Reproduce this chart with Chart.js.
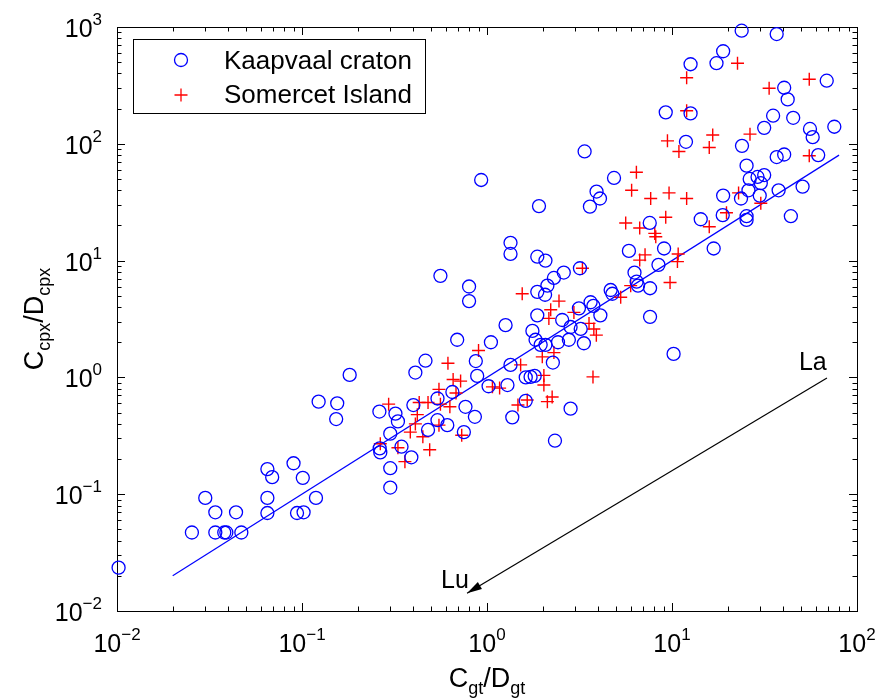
<!DOCTYPE html>
<html>
<head>
<meta charset="utf-8">
<script src="https://cdn.jsdelivr.net/npm/chart.js@4/dist/chart.umd.min.js"></script>
<style>
  html, body { margin: 0; padding: 0; background: #fff; }
</style>
</head>
<body>
<canvas id="chart" width="880" height="699"></canvas>
<script>
// Kaapvaal craton (blue circles)
const kaapX = [0.0102, 0.0254, 0.030, 0.034, 0.034, 0.038, 0.039, 0.044, 0.047, 0.065,
  0.069, 0.065, 0.065, 0.090, 0.101, 0.094, 0.102, 0.119, 0.123, 0.155,
  0.153, 0.181, 1.34, 1.34, 1.87, 2.07, 2.60, 0.56, 2.30, 2.12,
  0.80, 1.87, 2.06, 0.80, 3.63, 3.76, 3.14, 1.87, 2.55, 4.1,
  1.26, 2.83, 3.21, 1.76, 1.83, 1.95, 2.07, 2.42, 2.77, 3.34,
  0.69, 1.05, 2.27, 0.465, 0.41, 0.87, 1.34, 0.885, 1.62, 1.72,
  1.81, 1.02, 1.29, 0.65, 0.54, 1.62, 2.83, 0.40, 0.765, 0.262,
  0.32, 0.86, 1.37, 0.33, 0.54, 0.61, 0.48, 0.75, 0.30, 2.33,
  0.263, 0.265, 0.345, 0.39, 0.30, 0.30, 0.93, 1.91, 23.8, 36.8,
  18.9, 12.6, 17.4, 68.6, 40.4, 42.2, 9.25, 12.6, 35.2, 45.2,
  75.4, 31.5, 55.7, 57.6, 11.9, 23.9, 3.37, 36.8, 40.4, 61.7,
  25.3, 4.86, 29.0, 31.5, 30.2, 26.3, 50.8, 3.91, 4.08, 18.9,
  23.6, 29.8, 25.9, 37.7, 3.60, 14.3, 18.8, 25.3, 25.3, 43.9,
  7.58, 16.8, 5.85, 9.06, 8.45, 3.18, 6.27, 6.44, 6.55, 7.61,
  4.66, 4.76, 7.61, 10.2];
const kaapY = [0.0235, 0.047, 0.093, 0.070, 0.047, 0.047, 0.047, 0.070, 0.047, 0.164,
  0.14, 0.093, 0.069, 0.184, 0.138, 0.069, 0.070, 0.093, 0.62, 0.60,
  0.44, 1.05, 11.4, 14.2, 10.8, 10.0, 7.9, 7.4, 7.1, 6.1,
  6.0, 5.4, 5.1, 4.5, 4.4, 4.1, 3.9, 3.4, 3.1, 3.4,
  2.8, 2.7, 2.6, 2.5, 2.1, 1.9, 1.9, 2.0, 2.1, 1.96,
  2.1, 2.0, 1.34, 1.39, 1.10, 1.38, 1.28, 1.03, 1.0, 1.01,
  1.03, 0.84, 0.86, 0.75, 0.66, 0.63, 0.54, 0.58, 0.56, 0.51,
  0.49, 0.46, 0.455, 0.42, 0.43, 0.39, 0.355, 0.34, 0.33, 0.287,
  0.247, 0.228, 0.255, 0.207, 0.167, 0.114, 49, 29.3, 930, 870,
  620, 480, 490, 347, 302, 240, 186, 182, 174, 167,
  140, 137, 134, 114, 104, 96, 86, 77, 81, 80,
  65, 51, 52, 54, 46, 50, 43, 39, 34, 36,
  34, 36, 40, 40, 29, 22.6, 24.5, 24, 22.3, 24,
  21, 12.7, 12.1, 12.7, 9.2, 8.6, 7.9, 6.6, 6.1, 5.8,
  5.6, 5.2, 3.3, 1.59];

// Somercet Island (red plus)
const somX = [22.6, 12.0, 55.2, 33.5, 12.0, 16.6, 26.4, 9.45, 15.9, 10.9,
  55.2, 6.42, 6.05, 9.64, 12.0, 7.67, 22.9, 30.2, 19.7, 5.62,
  6.69, 8.07, 8.17, 9.25, 15.9, 7.15, 6.69, 10.8, 10.7, 3.28,
  5.98, 9.76, 5.28, 2.95, 3.56, 3.78, 3.90, 3.74, 1.55, 2.45,
  2.21, 2.16, 0.90, 0.615, 1.99, 2.30, 1.52, 2.03, 0.656, 0.72,
  1.07, 1.17, 2.03, 0.68, 0.55, 2.25, 2.12, 1.65, 1.47, 0.294,
  0.43, 0.48, 0.56, 0.63, 0.42, 0.41, 0.55, 0.385, 0.45, 0.73,
  0.265, 0.33, 0.49, 0.36];
const somY = [490, 368, 357, 299, 192, 119, 121, 106, 93, 86,
  79, 57, 40, 38, 34, 34, 38, 31, 25.7, 21,
  19, 17.1, 16, 23.5, 19.5, 11.2, 10.1, 11.4, 9.8, 8.6,
  6.1, 6.5, 4.85, 3.6, 2.9, 2.6, 2.3, 1.01, 5.2, 4.5,
  3.8, 3.2, 1.7, 1.32, 1.5, 1.63, 1.28, 1.04, 0.96, 0.93,
  0.83, 0.81, 0.86, 0.735, 0.79, 0.68, 0.62, 0.64, 0.58, 0.59,
  0.61, 0.61, 0.59, 0.56, 0.48, 0.40, 0.39, 0.34, 0.31, 0.32,
  0.27, 0.25, 0.24, 0.19];

// 1:1 reference line
const fitX = [0.02, 80];
const fitY = [0.02, 80];

// La -> Lu arrow
const arrowX = [68.8, 0.78];
const arrowY = [0.99, 0.0142];
const arrowText = ['La', 'Lu'];

// axes
const xTicks = [0.01, 0.1, 1, 10, 100];
const xTickExp = ['\u22122', '\u22121', '0', '1', '2'];
const yTicks = [0.01, 0.1, 1, 10, 100, 1000];
const yTickExp = ['\u22122', '\u22121', '0', '1', '2', '3'];
const seriesNames = ['Kaapvaal craton', 'Somercet Island'];

const FONT = '"Liberation Sans", Arial, Helvetica, sans-serif';
const BLUE = '#0000ff';
const RED = '#ff0000';

function pts(xs, ys) {
  return xs.map((x, i) => ({ x: x, y: ys[i] }));
}

// text with a raised or lowered small part: parts = [[text, size, dy], ...]
function partsWidth(ctx, parts) {
  let w = 0;
  parts.forEach(p => { ctx.font = p[1] + 'px ' + FONT; w += ctx.measureText(p[0]).width; });
  return w;
}
function drawParts(ctx, parts, x, y) {
  parts.forEach(p => {
    ctx.font = p[1] + 'px ' + FONT;
    ctx.fillText(p[0], x, y + p[2]);
    x += ctx.measureText(p[0]).width;
  });
}

const decor = {
  id: 'decor',
  beforeDatasetsDraw(chart) {
    const ctx = chart.ctx;
    const a = chart.chartArea;
    const xs = chart.scales.x, ys = chart.scales.y;
    ctx.save();
    ctx.strokeStyle = '#000';
    ctx.lineWidth = 1;
    ctx.strokeRect(a.left + 0.5, a.top + 0.5, a.right - a.left, a.bottom - a.top);
    ctx.beginPath();
    for (let d = -2; d < 2; d++) {
      for (let m = 1; m <= 9; m++) {
        const px = Math.round(xs.getPixelForValue(m * Math.pow(10, d))) + 0.5;
        const len = m === 1 ? 8 : 4.5;
        ctx.moveTo(px, a.bottom); ctx.lineTo(px, a.bottom - len);
        ctx.moveTo(px, a.top); ctx.lineTo(px, a.top + len);
      }
    }
    for (let d = -2; d < 3; d++) {
      for (let m = 1; m <= 9; m++) {
        const py = Math.round(ys.getPixelForValue(m * Math.pow(10, d))) + 0.5;
        const len = m === 1 ? 8 : 4.5;
        ctx.moveTo(a.left, py); ctx.lineTo(a.left + len, py);
        ctx.moveTo(a.right, py); ctx.lineTo(a.right - len, py);
      }
    }
    ctx.stroke();
    ctx.restore();
  },
  afterDraw(chart) {
    const ctx = chart.ctx;
    const a = chart.chartArea;
    const xs = chart.scales.x, ys = chart.scales.y;
    ctx.save();
    ctx.fillStyle = '#000';
    ctx.textBaseline = 'alphabetic';
    ctx.textAlign = 'left';

    // tick labels
    xTicks.forEach((v, i) => {
      const parts = [['10', 25, 0], [xTickExp[i], 17, -12]];
      const w = partsWidth(ctx, parts);
      drawParts(ctx, parts, xs.getPixelForValue(v) - w / 2, a.bottom + 41);
    });
    yTicks.forEach((v, i) => {
      const parts = [['10', 25, 0], [yTickExp[i], 17, -12]];
      const w = partsWidth(ctx, parts);
      drawParts(ctx, parts, a.left - 15 - w, ys.getPixelForValue(v) + 10);
    });

    // axis titles
    const xt = [['C', 27, 0], ['gt', 18, 7], ['/D', 27, 0], ['gt', 18, 7]];
    const xw = partsWidth(ctx, xt);
    drawParts(ctx, xt, (a.left + a.right) / 2 - xw / 2, 687);
    const yt = [['C', 27, 0], ['cpx', 18, 7], ['/D', 27, 0], ['cpx', 18, 7]];
    const yw = partsWidth(ctx, yt);
    ctx.save();
    ctx.translate(43, (a.top + a.bottom) / 2);
    ctx.rotate(-Math.PI / 2);
    drawParts(ctx, yt, -yw / 2, 0);
    ctx.restore();

    // arrow head and end labels
    const x0 = xs.getPixelForValue(arrowX[0]), y0 = ys.getPixelForValue(arrowY[0]);
    const x1 = xs.getPixelForValue(arrowX[1]), y1 = ys.getPixelForValue(arrowY[1]);
    const len = Math.hypot(x1 - x0, y1 - y0);
    const ux = (x1 - x0) / len, uy = (y1 - y0) / len;
    const bx = x1 - ux * 15, by = y1 - uy * 15;
    ctx.beginPath();
    ctx.moveTo(x1, y1);
    ctx.lineTo(bx - uy * 4, by + ux * 4);
    ctx.lineTo(bx + uy * 4, by - ux * 4);
    ctx.closePath();
    ctx.fill();
    ctx.font = '25px ' + FONT;
    ctx.fillText(arrowText[0], x0 - 28, y0 - 8);
    ctx.fillText(arrowText[1], x1 - 26, y1 - 5);

    // legend box
    const lx = a.left + 16, ly = a.top + 12;
    ctx.fillStyle = '#fff';
    ctx.fillRect(lx, ly, 292, 74);
    ctx.strokeStyle = '#000';
    ctx.lineWidth = 1;
    ctx.strokeRect(lx + 0.5, ly + 0.5, 292, 74);
    ctx.lineWidth = 1.3;
    ctx.strokeStyle = BLUE;
    ctx.beginPath();
    ctx.arc(lx + 48, ly + 21, 6.5, 0, Math.PI * 2);
    ctx.stroke();
    ctx.strokeStyle = RED;
    ctx.beginPath();
    ctx.moveTo(lx + 41.5, ly + 56); ctx.lineTo(lx + 54.5, ly + 56);
    ctx.moveTo(lx + 48, ly + 49.5); ctx.lineTo(lx + 48, ly + 62.5);
    ctx.stroke();
    ctx.fillStyle = '#000';
    ctx.font = '26px ' + FONT;
    ctx.fillText(seriesNames[0], lx + 91, ly + 30);
    ctx.fillText(seriesNames[1], lx + 91, ly + 64);
    ctx.restore();
  }
};

new Chart(document.getElementById('chart'), {
  type: 'scatter',
  data: {
    datasets: [
      {
        label: seriesNames[0],
        data: pts(kaapX, kaapY),
        pointStyle: 'circle',
        pointRadius: 6.5,
        pointBorderWidth: 1.3,
        borderColor: BLUE,
        backgroundColor: 'rgba(0,0,0,0)',
        clip: false
      },
      {
        label: seriesNames[1],
        data: pts(somX, somY),
        pointStyle: 'cross',
        pointRadius: 6.5,
        pointBorderWidth: 1.4,
        borderColor: RED,
        backgroundColor: RED,
        clip: false
      },
      {
        label: 'fit',
        data: pts(fitX, fitY),
        showLine: true,
        pointRadius: 0,
        borderColor: BLUE,
        borderWidth: 1.2
      },
      {
        label: 'arrow',
        data: pts(arrowX, arrowY),
        showLine: true,
        pointRadius: 0,
        borderColor: '#000',
        borderWidth: 1.2
      }
    ]
  },
  options: {
    responsive: false,
    animation: false,
    devicePixelRatio: 1,
    layout: { padding: { left: 117, right: 23, top: 27, bottom: 88 } },
    plugins: { legend: { display: false }, tooltip: { enabled: false } },
    scales: {
      x: { type: 'logarithmic', min: 0.01, max: 100, display: false },
      y: { type: 'logarithmic', min: 0.01, max: 1000, display: false }
    }
  },
  plugins: [decor]
});
</script>
</body>
</html>
